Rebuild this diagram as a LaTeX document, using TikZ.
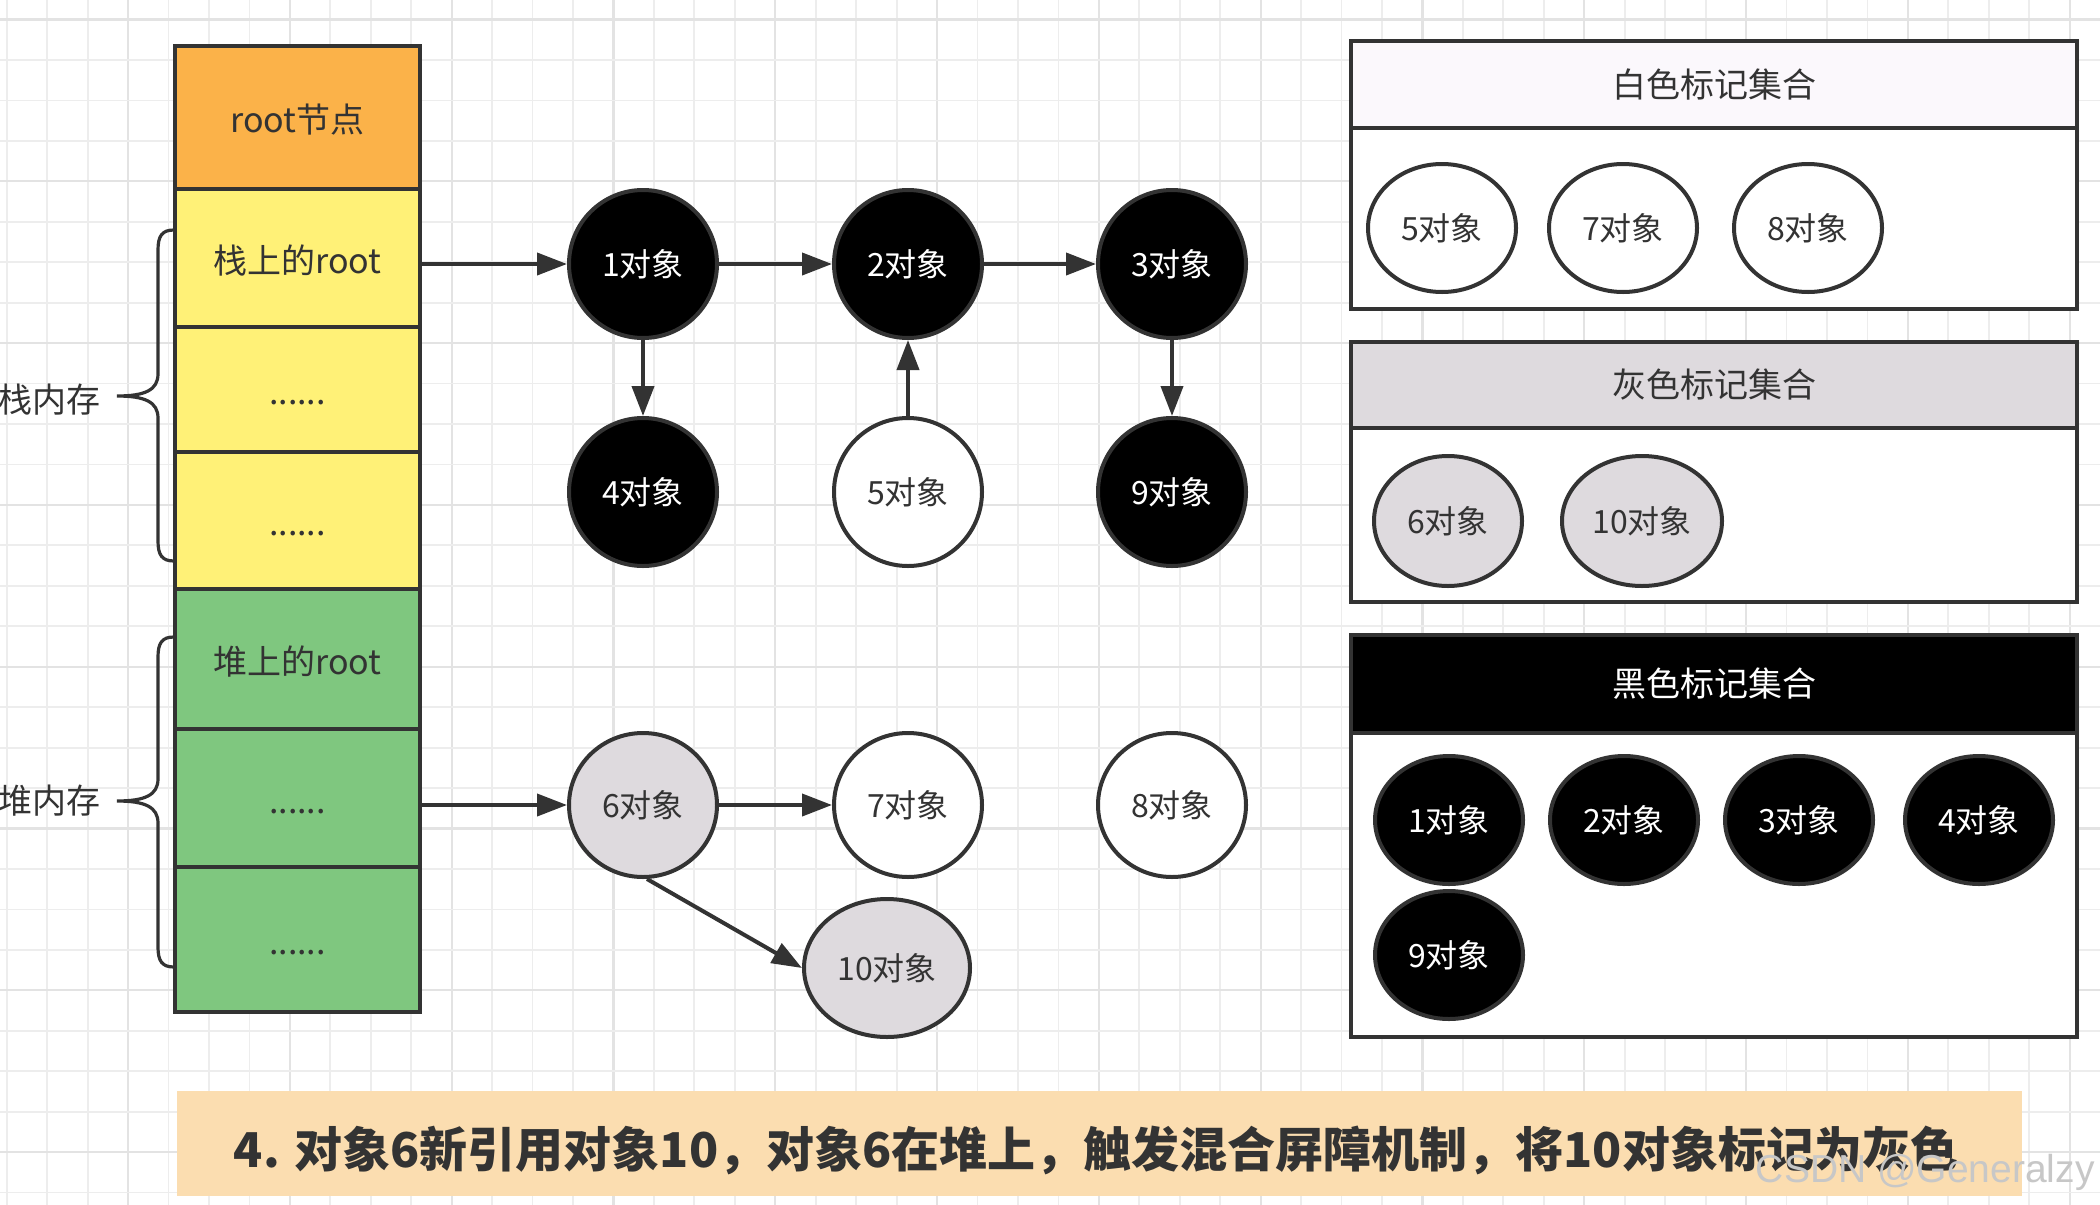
\documentclass[tikz,border=0pt]{standalone}
\usepackage{fontspec}
\setmainfont{Noto Sans CJK SC}
\newfontfamily\wmfont{Liberation Sans}
\usetikzlibrary{arrows.meta,shapes.geometric}
\definecolor{ink}{HTML}{333333}
\definecolor{cOrange}{HTML}{FBB249}
\definecolor{cYellow}{HTML}{FFF177}
\definecolor{cGreen}{HTML}{7FC77F}
\definecolor{cGray}{HTML}{DEDADE}
\definecolor{cWhiteHead}{HTML}{FBF8FC}
\definecolor{cBanner}{HTML}{FBDDB0}
\definecolor{gridMinor}{HTML}{EDEDED}
\definecolor{gridMajor}{HTML}{E3E3E3}
\begin{document}
\begin{tikzpicture}[x=0.5pt,y=-0.5pt,
  cell/.style={draw=ink, line width=2pt, rectangle, minimum width=122.5pt, inner sep=0pt, text=ink, font=\fontsize{17}{20}\selectfont, text height=18pt, text depth=3pt},
  obj/.style={ellipse, draw=ink, line width=2pt, inner sep=0pt, minimum width=74pt, minimum height=74pt, font=\fontsize{16}{19}\selectfont},
  blackobj/.style={obj, fill=black, text=white},
  whiteobj/.style={obj, fill=white, text=ink},
  grayobj/.style={obj, fill=cGray, text=ink},
  setobj/.style={minimum width=74pt, minimum height=64pt},
  arr/.style={draw=ink, line width=2pt, -{Triangle[length=15pt,width=11pt]}},
  panel/.style={draw=ink, line width=2pt, rectangle, inner sep=0pt, minimum width=363pt, font=\fontsize{17}{20}\selectfont},
  brace/.style={draw=ink, line width=1.6pt, line cap=round},
  lbl/.style={text=ink, font=\fontsize{17}{20}\selectfont, inner sep=0pt},
]
\useasboundingbox[fill=white] (0,0) rectangle (2100,1205);
% grid
\foreach \k in {0,...,51} {
  \pgfmathsetmacro\xx{6.7+\k*40.45}
  \pgfmathtruncatemacro\mm{mod(\k,4)}
  \ifnum\mm=3
    \draw[gridMajor, line width=1.1pt] (\xx,0) -- (\xx,1205);
  \else
    \draw[gridMinor, line width=0.9pt] (\xx,0) -- (\xx,1205);
  \fi
}
\foreach \k in {0,...,29} {
  \pgfmathsetmacro\yy{19.5+\k*40.45}
  \pgfmathtruncatemacro\mm{mod(\k,4)}
  \ifnum\mm=0
    \draw[gridMajor, line width=1.1pt] (0,\yy) -- (2100,\yy);
  \else
    \draw[gridMinor, line width=0.9pt] (0,\yy) -- (2100,\yy);
  \fi
}
% stack
\node[cell, fill=cOrange, minimum height=71.5pt] (r0) at (297.5,117.5) {root节点};
\node[cell, fill=cYellow, minimum height=69pt] (r1) at (297.5,258) {栈上的root};
\node[cell, fill=cYellow, minimum height=62.5pt] (r2) at (297.5,389.5) {......};
\node[cell, fill=cYellow, minimum height=68.5pt] (r3) at (297.5,520.5) {......};
\node[cell, fill=cGreen, minimum height=70pt] (g1) at (297.5,659) {堆上的root};
\node[cell, fill=cGreen, minimum height=69pt] (g2) at (297.5,798) {......};
\node[cell, fill=cGreen, minimum height=72.5pt] (g3) at (297.5,939.5) {......};
% braces
\draw[brace] (174,230) .. controls (162,230) and (158,236) .. (158,250) -- (158,374)
  .. controls (158,390) and (145,396) .. (117,396)
  .. controls (145,396) and (158,402) .. (158,418) -- (158,541)
  .. controls (158,555) and (162,561) .. (174,561);
\draw[brace] (174,637) .. controls (162,637) and (158,643) .. (158,657) -- (158,779)
  .. controls (158,795) and (145,801) .. (117,801)
  .. controls (145,801) and (158,807) .. (158,823) -- (158,947)
  .. controls (158,961) and (162,967) .. (174,967);
\node[lbl, anchor=east] (stackLbl) at (101,400) {栈内存};
\node[lbl, anchor=east] (heapLbl) at (101,801) {堆内存};
% objects
\node[blackobj] (n1) at (643,264) {1对象};
\node[blackobj] (n2) at (908,264) {2对象};
\node[blackobj] (n3) at (1172,264) {3对象};
\node[blackobj] (n4) at (643,492) {4对象};
\node[whiteobj] (n5) at (908,492) {5对象};
\node[blackobj] (n9) at (1172,492) {9对象};
\node[grayobj, minimum height=72pt] (n6) at (643,805) {6对象};
\node[whiteobj, minimum height=72pt] (n7) at (908,805) {7对象};
\node[whiteobj, minimum height=72pt] (n8) at (1172,805) {8对象};
\node[grayobj, minimum width=83pt, minimum height=69pt] (n10) at (887,968) {10对象};
% arrows
\draw[arr] (r1.east |- n1.west) -- (n1.west);
\draw[arr] (n1) -- (n2);
\draw[arr] (n2) -- (n3);
\draw[arr] (n1) -- (n4);
\draw[arr] (n5) -- (n2);
\draw[arr] (n3) -- (n9);
\draw[arr] (g2.east |- n6.west) -- (n6.west);
\draw[arr] (n6) -- (n7);
\draw[arr] ([xshift=2pt]n6.south) -- (n10.west);
% white set
\node[panel, fill=white, minimum height=134pt] (wBody) at (1714,175) {};
\node[panel, fill=cWhiteHead, minimum height=43.5pt, text=ink] (wHead) at (1714,84.5) {白色标记集合};
\node[whiteobj, setobj] (w5) at (1442,228) {5对象};
\node[whiteobj, setobj] (w7) at (1623,228) {7对象};
\node[whiteobj, setobj] (w8) at (1808,228) {8对象};
% gray set
\node[panel, fill=white, minimum height=130pt] (gBody) at (1714,472) {};
\node[panel, fill=cGray, minimum height=43pt, text=ink] (gHead) at (1714,385) {灰色标记集合};
\node[grayobj, setobj, minimum height=65pt] (s6) at (1448,521) {6对象};
\node[grayobj, setobj, minimum width=80pt, minimum height=65pt] (s10) at (1642,521) {10对象};
% black set
\node[panel, fill=white, minimum height=201pt] (bBody) at (1714,836) {};
\node[panel, fill=black, minimum height=49pt, text=white] (bHead) at (1714,684) {黑色标记集合};
\node[blackobj, setobj] (b1) at (1449,820) {1对象};
\node[blackobj, setobj] (b2) at (1624,820) {2对象};
\node[blackobj, setobj] (b3) at (1799,820) {3对象};
\node[blackobj, setobj] (b4) at (1979,820) {4对象};
\node[blackobj, setobj] (b9) at (1449,955) {9对象};
% banner
\node[fill=cBanner, minimum width=922.5pt, minimum height=52.5pt, inner sep=0pt] (banner) at (1099.5,1143.5) {};
\node[text=ink, font=\bfseries\fontsize{24}{28}\selectfont, inner sep=0pt] (bannerText) at (1096,1150) {4. 对象6新引用对象10，对象6在堆上，触发混合屏障机制，将10对象标记为灰色};
\node[anchor=base east, text=black!22, font=\wmfont\fontsize{19.5}{22}\selectfont, inner sep=0pt] (wm) at (2095,1182) {CSDN @Generalzy};
\end{tikzpicture}
\end{document}
